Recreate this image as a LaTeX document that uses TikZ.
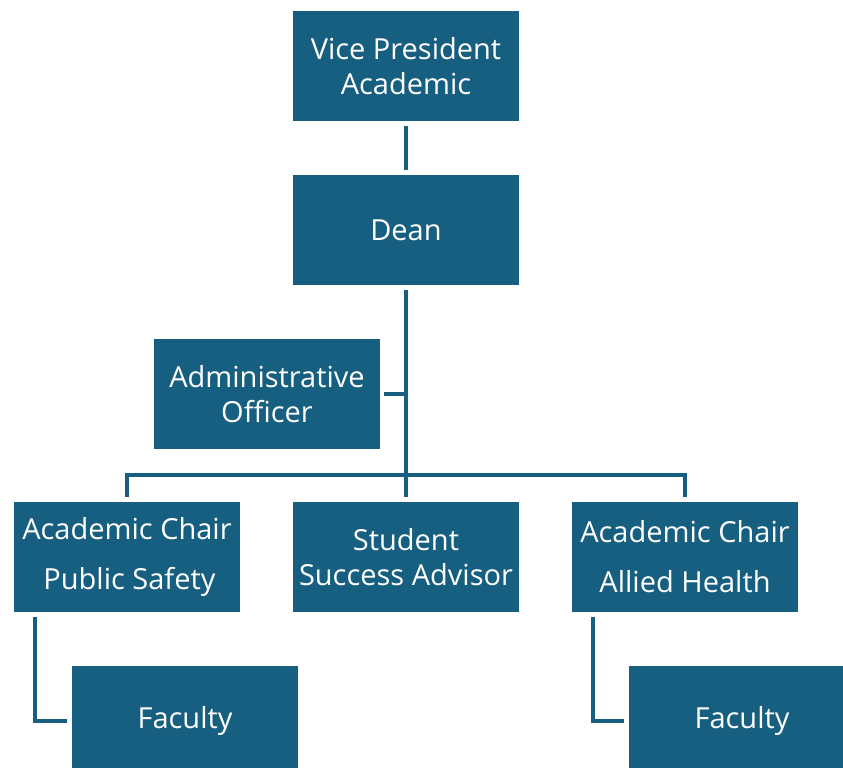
\documentclass[tikz,border=0pt]{standalone}
\usepackage{fontspec}
\setmainfont{Open Sans}
\usetikzlibrary{positioning}
\definecolor{orgblue}{HTML}{175F80}

\begin{document}
\begin{tikzpicture}[x=1pt, y=-1pt,
        orgbox/.style={
            rectangle, fill=orgblue, inner sep=0pt,
            minimum width=226pt, minimum height=110pt,
            text=white, align=center,
            font=\fontsize{29}{35}\selectfont,
        },
        orgline/.style={draw=orgblue, line width=4pt},
    ]
        \useasboundingbox (0,0) rectangle (843,768);
        \clip (0,0) rectangle (843,768);

        \node (vp) at (406,66) [orgbox] {Vice President\\Academic};
        \node (dean) at (406,230) [orgbox] {Dean};
        \node (admin) at (267,394) [orgbox] {Administrative\\Officer};

        \node (lchair) at (127,557) [orgbox] {Academic Chair\\[15pt]\,Public Safety};
        \node (advisor) at (406,557) [orgbox] {Student\\Success Advisor};
        \node (rchair) at (685,557) [orgbox] {Academic Chair\\[15pt]Allied Health};

        \node (lfaculty) at (185,721) [orgbox] {Faculty};
        \node (rfaculty) at (742,721) [orgbox] {Faculty};

        \coordinate (bar) at (406,475);
        \coordinate (lfork) at ([xshift=21pt, yshift=-5pt]lchair.south west);
        \coordinate (rfork) at ([xshift=21pt, yshift=-5pt]rchair.south west);

        \draw[orgline] ([yshift=-5pt]vp.south) -- ([yshift=5pt]dean.north);
        \draw[orgline] ([yshift=-5pt]dean.south) -- ([yshift=5pt]advisor.north);
        \draw[orgline] ([xshift=4pt]admin.east) -- (dean.south |- admin.east);
        \draw[orgline] ([yshift=5pt]lchair.north) -- (lchair.north |- bar)
            -- (rchair.north |- bar) -- ([yshift=5pt]rchair.north);
        \draw[orgline] (lfork) |- ([xshift=-5pt]lfaculty.west);
        \draw[orgline] (rfork) |- ([xshift=-5pt]rfaculty.west);
    \end{tikzpicture}
\end{document}
